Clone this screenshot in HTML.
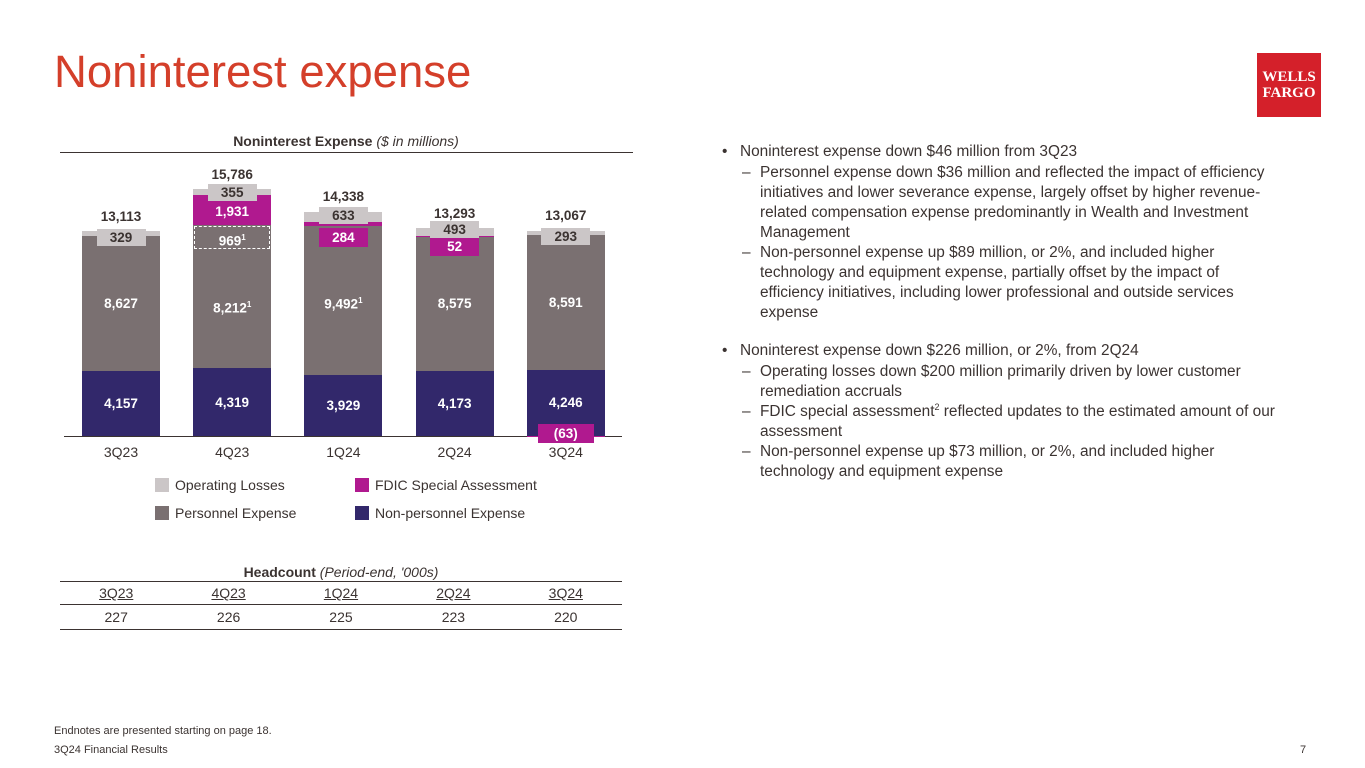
<!DOCTYPE html>
<html><head><meta charset="utf-8"><style>
body{margin:0;width:1365px;height:768px;background:#fff;font-family:"Liberation Sans",sans-serif;position:relative;overflow:hidden;color:#3b3331}
.a{position:absolute}
.lbl{position:absolute;font-weight:bold;font-size:13.5px;text-align:center;line-height:17px}
.rt{position:absolute;left:722px;width:565px;font-size:15.4px;line-height:20px;color:#3b3331}
.rt p{margin:0;position:relative}
.b1{padding-left:18px}.b1:before{content:"•";position:absolute;left:0}
.b2{padding-left:38px}.b2:before{content:"–";position:absolute;left:20px}
table{border-collapse:collapse}
</style></head><body>
<div class="a" style="left:54px;top:46px;font-size:45.5px;color:#d43f2a">Noninterest expense</div>
<div class="a" style="left:1257px;top:53px;width:64px;height:64px;background:#d4202a;color:#fff;font-family:'Liberation Serif',serif;font-weight:bold;font-size:15px;line-height:16px;text-align:center;padding-top:16px;box-sizing:border-box">WELLS<br>FARGO</div>
<div class="a" style="left:60px;width:572px;top:133px;text-align:center;font-size:14px;font-weight:bold;color:#3b3331">Noninterest Expense <i style="font-weight:normal">($ in millions)</i></div>
<div class="a" style="left:60px;width:573px;top:152px;height:1px;background:#3b3331"></div>
<div class="a" style="left:64px;width:558px;top:436px;height:1px;background:#3b3331"></div>
<div id="chart" class="a" style="left:0;top:0;width:700px;height:470px"></div>
<div class="a" style="left:155px;top:477px;font-size:14px;color:#3b3331">
 <div class="a" style="left:0;top:0;white-space:nowrap"><span style="display:inline-block;width:14px;height:14px;background:#cbc6c7;vertical-align:-2px;margin-right:6px"></span>Operating Losses</div>
 <div class="a" style="left:200px;top:0;white-space:nowrap"><span style="display:inline-block;width:14px;height:14px;background:#b0198f;vertical-align:-2px;margin-right:6px"></span>FDIC Special Assessment</div>
 <div class="a" style="left:0;top:28px;white-space:nowrap"><span style="display:inline-block;width:14px;height:14px;background:#7a7071;vertical-align:-2px;margin-right:6px"></span>Personnel Expense</div>
 <div class="a" style="left:200px;top:28px;white-space:nowrap"><span style="display:inline-block;width:14px;height:14px;background:#32286b;vertical-align:-2px;margin-right:6px"></span>Non-personnel Expense</div>
</div>
<div class="a" style="left:60px;width:562px;top:564px;text-align:center;font-size:14px;font-weight:bold">Headcount <i style="font-weight:normal">(Period-end, '000s)</i></div>
<table class="a" style="left:60px;top:581px;width:562px;font-size:14px;color:#3b3331">
<tr style="border-top:1.5px solid #3b3331;border-bottom:1px solid #3b3331"><td style="text-align:center;height:20px;text-decoration:underline">3Q23</td><td style="text-align:center;text-decoration:underline">4Q23</td><td style="text-align:center;text-decoration:underline">1Q24</td><td style="text-align:center;text-decoration:underline">2Q24</td><td style="text-align:center;text-decoration:underline">3Q24</td></tr>
<tr style="border-bottom:1.5px solid #3b3331"><td style="text-align:center;height:22px">227</td><td style="text-align:center">226</td><td style="text-align:center">225</td><td style="text-align:center">223</td><td style="text-align:center">220</td></tr>
</table>
<div class="rt" style="top:142px">
<p class="b1">Noninterest expense down $46 million from 3Q23</p>
<p class="b2" style="margin-top:1px">Personnel expense down $36 million and reflected the impact of efficiency initiatives and lower severance expense, largely offset by higher revenue-related compensation expense predominantly in Wealth and Investment Management</p>
<p class="b2">Non-personnel expense up $89 million, or 2%, and included higher technology and equipment expense, partially offset by the impact of efficiency initiatives, including lower professional and outside services expense</p>
<p class="b1" style="margin-top:18px">Noninterest expense down $226 million, or 2%, from 2Q24</p>
<p class="b2" style="margin-top:1px">Operating losses down $200 million primarily driven by lower customer remediation accruals</p>
<p class="b2">FDIC special assessment<sup style="font-size:9px;line-height:0">2</sup> reflected updates to the estimated amount of our assessment</p>
<p class="b2">Non-personnel expense up $73 million, or 2%, and included higher technology and equipment expense</p>
</div>
<div class="a" style="left:54px;top:725px;font-size:11px">Endnotes are presented starting on page 18.</div>
<div class="a" style="left:54px;top:744px;font-size:11px">3Q24 Financial Results</div>
<div class="a" style="left:1300px;top:744px;font-size:11px">7</div>
<script>
const categories=["3Q23","4Q23","1Q24","2Q24","3Q24"];
const nonPersonnel=[4157,4319,3929,4173,4246];
const personnel=[8627,8212,9492,8575,8591];
const personnelExtra=[0,969,0,0,0];
const fdic=[0,1931,284,52,-63];
const opLosses=[329,355,633,493,293];
const totals=[13113,15786,14338,13293,13067];
const personnelSup=[false,true,true,false,false];
const base=436, k=205/13113, x0=82, step=111.2, bw=78;
const C=document.getElementById('chart');
function y(v){return base-v*k;}
function fmt(v){return v<0?'('+Math.abs(v).toLocaleString('en-US')+')':v.toLocaleString('en-US');}
function rect(x,top,h,col,name){const d=document.createElement('div');d.className='a';d.style.cssText=`left:${x}px;top:${top}px;width:${bw}px;height:${Math.max(h,1)}px;background:${col}`;


C.appendChild(d);return d;}
function label(txt,cx,cy,opts,name){const d=document.createElement('div');d.className='lbl';const w=opts.w||60;
d.style.cssText=`left:${cx-w/2}px;top:${cy-8.5}px;width:${w}px;color:${opts.c||'#fff'};${opts.bg?'background:'+opts.bg+';':''}${opts.border||''}`;
d.innerHTML=txt;


C.appendChild(d);return d;}
categories.forEach((c,i)=>{
 const x=x0+i*step,cx=x+bw/2;
 let cum=0;
 rect(x,y(nonPersonnel[i]),nonPersonnel[i]*k,'#32286b','bar-non-personnel-'+c);
 label(fmt(nonPersonnel[i]),cx,y(nonPersonnel[i]/2),{},'value-non-personnel-'+c);
 cum=nonPersonnel[i];
 const pTot=personnel[i]+personnelExtra[i];
 rect(x,y(cum+pTot),pTot*k,'#7a7071','bar-personnel-'+c);
 label(fmt(personnel[i])+(personnelSup[i]?'<sup style="font-size:8px">1</sup>':''),cx,y(cum+personnel[i]/2),{w:70},'value-personnel-'+c);
 if(personnelExtra[i]>0){
  const t=y(cum+pTot);
  const d=document.createElement('div');d.className='a';
  d.style.cssText=`left:${x+1}px;top:${t+1}px;width:${bw-4}px;height:21px;border:1.5px dashed #fff`;
  
  
  C.appendChild(d);
  label(fmt(personnelExtra[i])+'<sup style="font-size:8px">1</sup>',cx,t+13,{},'value-severance-'+c);
 }
 cum+=pTot;
 if(fdic[i]>0){
  rect(x,y(cum+fdic[i]),fdic[i]*k,'#b0198f','bar-fdic-'+c);
  if(fdic[i]>500) label(fmt(fdic[i]),cx,y(cum+fdic[i]/2)+2,{},'value-fdic-'+c);
  else label(fmt(fdic[i]),cx,y(cum)+(fdic[i]>100?10:9),{bg:'#b0198f',w:49,border:'height:19px;line-height:19px;'},'value-fdic-'+c);
  cum+=fdic[i];
 } else if(fdic[i]<0){
  rect(x,base,-fdic[i]*k,'#b0198f','bar-fdic-'+c);
  label(fmt(fdic[i]),cx,base-4,{bg:'#b0198f',w:56,border:'height:19px;line-height:19px;'},'value-fdic-'+c);
 }
 const oTop=y(cum+opLosses[i]);
 let off=6; if(fdic[i]>500) off=3; else if(fdic[i]>100) off=4; else if(fdic[i]>0) off=1;
 label(fmt(opLosses[i]),cx,oTop+off,{c:'#3b3331',bg:'#cbc6c7',w:49},'value-operating-losses-'+c);
 rect(x,oTop,opLosses[i]*k,'#cbc6c7','bar-operating-losses-'+c).style.zIndex=-1;
 label(fmt(totals[i]),cx,oTop-15,{c:'#3b3331',w:70},'total-'+c);
 const t=document.createElement('div');t.className='a';
 t.style.cssText=`left:${cx-30}px;width:60px;top:444px;text-align:center;font-size:14px;color:#3b3331`;
 t.textContent=c;
 
 
 C.appendChild(t);
});
</script>
</body></html>
